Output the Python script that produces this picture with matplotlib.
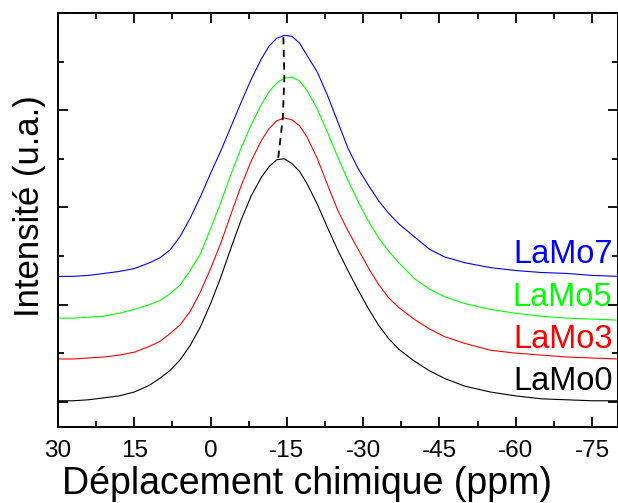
import matplotlib
matplotlib.use("Agg")
import matplotlib.pyplot as plt
from matplotlib.ticker import MultipleLocator, FixedLocator, FixedFormatter

plt.rcParams['font.family'] = ['Liberation Sans', 'DejaVu Sans']
plt.rcParams['axes.unicode_minus'] = False

# chemical shift (ppm)
shift = [30, 27, 24, 21, 18, 15, 12, 10, 8, 6, 4, 2, 0, -2, -4, -6, -8, -10, -11.5, -13,
         -14.5, -16, -17.5, -19, -21, -23, -25, -27, -29, -31, -33, -35, -37, -40, -43,
         -46, -50, -55, -60, -65, -70, -75, -80]

lamo0 = [0.01, 0.01, 0.02, 0.04, 0.06, 0.10, 0.17, 0.24, 0.32, 0.43, 0.58, 0.77, 1.01, 1.28,
         1.58, 1.87, 2.12, 2.31, 2.42, 2.49, 2.50, 2.45, 2.37, 2.24, 2.03, 1.79, 1.56, 1.35,
         1.15, 0.96, 0.79, 0.65, 0.54, 0.42, 0.32, 0.24, 0.16, 0.10, 0.06, 0.03, 0.02, 0.01,
         0.01]
lamo3 = [0.44, 0.44, 0.45, 0.46, 0.48, 0.51, 0.57, 0.62, 0.70, 0.79, 0.93, 1.13, 1.37, 1.63,
         1.93, 2.22, 2.48, 2.69, 2.81, 2.89, 2.92, 2.90, 2.84, 2.72, 2.50, 2.23, 1.97, 1.76,
         1.57, 1.38, 1.21, 1.07, 0.97, 0.85, 0.75, 0.67, 0.60, 0.53, 0.50, 0.48, 0.46, 0.45,
         0.44]
lamo5 = [0.86, 0.86, 0.87, 0.88, 0.91, 0.95, 1.00, 1.04, 1.11, 1.20, 1.35, 1.52, 1.78, 2.05,
         2.34, 2.61, 2.85, 3.06, 3.19, 3.28, 3.33, 3.34, 3.30, 3.20, 3.01, 2.77, 2.52, 2.28,
         2.06, 1.86, 1.69, 1.55, 1.43, 1.27, 1.16, 1.08, 1.01, 0.95, 0.91, 0.88, 0.86, 0.85,
         0.84]
lamo7 = [1.29, 1.29, 1.30, 1.32, 1.34, 1.37, 1.43, 1.48, 1.56, 1.70, 1.89, 2.11, 2.35, 2.58,
         2.83, 3.08, 3.32, 3.53, 3.66, 3.74, 3.77, 3.76, 3.69, 3.56, 3.39, 3.15, 2.88, 2.61,
         2.40, 2.23, 2.07, 1.94, 1.83, 1.70, 1.57, 1.49, 1.43, 1.38, 1.35, 1.33, 1.32, 1.30,
         1.29]

# peak maxima positions (dashed guide)
peak_x = [-13.3, -14.2, -14.5, -14.3]
peak_y = [2.51, 2.92, 3.34, 3.77]

names = ['LaMo0', 'LaMo3', 'LaMo5', 'LaMo7']
series = [lamo0, lamo3, lamo5, lamo7]
colors = ['#000000', '#ff0000', '#00ff00', '#0000ff']
label_y = [0.12, 0.55, 0.98, 1.43]

xtick_vals = [30, 15, 0, -15, -30, -45, -60, -75]
xtick_labels = ['30', '15', '0', '-15', '-30', '-45', '-60', '-75']

fig = plt.figure(figsize=(6.18, 5.03), dpi=100)
ax = fig.add_axes([58 / 618, (503 - 427) / 503, 559.5 / 618, 414 / 503])

for ys, c in zip(series, colors):
    ax.plot(shift, ys, color=c, lw=0.8)
ax.plot(peak_x, peak_y, color='black', lw=1.3, ls=(0, (4, 3)))

for n, c, ly in zip(names, colors, label_y):
    ax.text(-79.0, ly, n, color=c, fontsize=23.5, ha='right', va='baseline')

ax.set_xlim(30, -80)
ax.set_ylim(-0.26, 4.0)
ax.xaxis.set_major_locator(FixedLocator(xtick_vals))
ax.xaxis.set_major_formatter(FixedFormatter(xtick_labels))
ax.xaxis.set_minor_locator(MultipleLocator(7.5))
ax.yaxis.set_major_locator(MultipleLocator(1.0))
ax.yaxis.set_minor_locator(MultipleLocator(0.5))
ax.tick_params(which='both', direction='in', top=True, right=True, width=1.3)
ax.tick_params(which='major', length=7, labelsize=17.5, pad=9.5)
ax.tick_params(which='minor', length=4)
ax.tick_params(axis='y', which='both', labelleft=False)
for s in ax.spines.values():
    s.set_linewidth(1.4)

ax.set_xlabel('Déplacement chimique (ppm)', fontsize=27)
ax.xaxis.set_label_coords(0.445, -0.137)
ax.xaxis.label.set_va('center')
ax.set_ylabel('Intensité (u.a.)', fontsize=25)
ax.yaxis.set_label_coords(-0.051, 0.534)
ax.yaxis.label.set_va('center')

fig.savefig('out.png', dpi=100)
